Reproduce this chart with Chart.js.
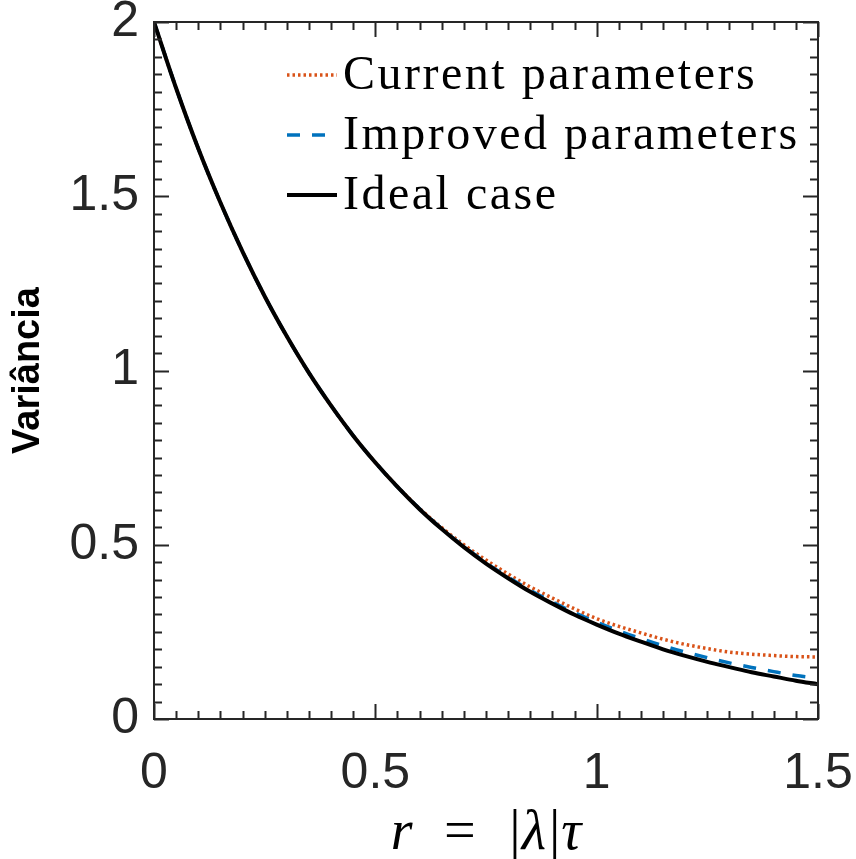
<!DOCTYPE html>
<html>
<head>
<meta charset="utf-8">
<script src="https://cdn.jsdelivr.net/npm/chart.js@4.4.0/dist/chart.umd.min.js"></script>
<style>
  html, body { margin: 0; padding: 0; background: #fff; }
  #wrap { width: 856px; height: 859px; }
</style>
</head>
<body>
<div id="wrap"><canvas id="chart" width="856" height="859"></canvas></div>
<script>
// r = |lambda| tau
const rValues = [0, 0.05, 0.1, 0.15, 0.2, 0.25, 0.3, 0.35, 0.4, 0.45, 0.5, 0.55, 0.6, 0.65, 0.7, 0.75,
                 0.8, 0.85, 0.9, 0.95, 1.0, 1.05, 1.1, 1.15, 1.2, 1.25, 1.3, 1.35, 1.4, 1.45, 1.5];

// Variância
const currentParams = [2.000, 1.810, 1.637, 1.482, 1.341, 1.213, 1.098, 0.993, 0.899, 0.813, 0.736, 0.667, 0.604, 0.549, 0.500, 0.456,
                       0.416, 0.379, 0.347, 0.316, 0.288, 0.266, 0.247, 0.229, 0.214, 0.202, 0.192, 0.186, 0.182, 0.179, 0.178];
const improvedParams = [2.000, 1.810, 1.637, 1.482, 1.341, 1.213, 1.098, 0.993, 0.899, 0.813, 0.736, 0.666, 0.603, 0.546, 0.495, 0.448,
                        0.407, 0.369, 0.336, 0.305, 0.278, 0.253, 0.231, 0.210, 0.192, 0.176, 0.161, 0.148, 0.136, 0.125, 0.117];
const idealCase = [2.000, 1.810, 1.637, 1.482, 1.341, 1.213, 1.098, 0.993, 0.899, 0.813, 0.736, 0.666, 0.602, 0.545, 0.493, 0.446,
                   0.404, 0.365, 0.331, 0.299, 0.271, 0.245, 0.222, 0.200, 0.181, 0.164, 0.149, 0.134, 0.122, 0.110, 0.100];

const seriesNames = ['Current parameters', 'Improved parameters', 'Ideal case'];
const xTicks = [0, 0.5, 1, 1.5];
const yTicks = [0, 0.5, 1, 1.5, 2];
const minorStep = 0.05;

const toPoints = arr => rValues.map((r, i) => ({ x: r, y: arr[i] }));

// inward ticks + box, like the matlab axes
const boxTicks = {
  id: 'boxTicks',
  afterDatasetsDraw(chart) {
    const { ctx, chartArea: a, scales: { x, y } } = chart;
    ctx.save();
    ctx.strokeStyle = '#262626';
    ctx.lineWidth = 2;
    ctx.beginPath();
    const nx = Math.round((x.max - x.min) / minorStep);
    for (let i = 0; i <= nx; i++) {
      const v = x.min + i * minorStep;
      const px = Math.round(x.getPixelForValue(v)) + 0.5;
      const len = xTicks.some(t => Math.abs(t - v) < 1e-6) ? 15 : 8;
      ctx.moveTo(px, a.bottom); ctx.lineTo(px, a.bottom - len);
      ctx.moveTo(px, a.top); ctx.lineTo(px, a.top + len);
    }
    const ny = Math.round((y.max - y.min) / minorStep);
    for (let i = 0; i <= ny; i++) {
      const v = y.min + i * minorStep;
      const py = Math.round(y.getPixelForValue(v)) + 0.5;
      const len = yTicks.some(t => Math.abs(t - v) < 1e-6) ? 15 : 8;
      ctx.moveTo(a.left, py); ctx.lineTo(a.left + len, py);
      ctx.moveTo(a.right, py); ctx.lineTo(a.right - len, py);
    }
    ctx.stroke();
    ctx.strokeRect(a.left, a.top, a.width, a.height);
    ctx.restore();
  }
};

// legend inside the axes, top right, no box
const insideLegend = {
  id: 'insideLegend',
  afterDraw(chart) {
    const { ctx, chartArea: a } = chart;
    const x0 = a.left + 133, x1 = a.left + 183, tx = a.left + 189;
    ctx.save();
    ctx.font = '48px "Liberation Serif", "Times New Roman", serif';
    ctx.letterSpacing = '2.5px';
    ctx.textBaseline = 'alphabetic';
    chart.data.datasets.forEach((ds, i) => {
      const ly = a.top + 53 + i * 60;
      ctx.strokeStyle = ds.borderColor;
      ctx.lineWidth = ds.borderWidth;
      ctx.setLineDash(ds.borderDash || []);
      ctx.beginPath();
      ctx.moveTo(x0, ly);
      ctx.lineTo(x1, ly);
      ctx.stroke();
      ctx.setLineDash([]);
      ctx.fillStyle = '#000';
      ctx.fillText(ds.label, tx, ly + 14);
    });
    ctx.restore();
  }
};

const tickFont = { family: '"Liberation Sans", Arial, Helvetica, sans-serif', size: 50 };

const ctx = document.getElementById('chart').getContext('2d');
new Chart(ctx, {
  type: 'line',
  data: {
    datasets: [
      {
        label: seriesNames[0],
        data: toPoints(currentParams),
        borderColor: '#D95319',
        borderWidth: 3.5,
        borderDash: [2.5, 3],
        order: 3
      },
      {
        label: seriesNames[1],
        data: toPoints(improvedParams),
        borderColor: '#0072BD',
        borderWidth: 3.5,
        borderDash: [13, 12],
        order: 2
      },
      {
        label: seriesNames[2],
        data: toPoints(idealCase),
        borderColor: '#000000',
        borderWidth: 4,
        order: 1
      }
    ]
  },
  options: {
    responsive: false,
    animation: false,
    devicePixelRatio: 1,
    layout: { padding: { top: 22, right: 38, left: 0, bottom: 0 } },
    elements: {
      point: { radius: 0 },
      line: { cubicInterpolationMode: 'monotone', fill: false }
    },
    plugins: {
      legend: { display: false },
      tooltip: { enabled: false }
    },
    scales: {
      x: {
        type: 'linear',
        min: 0,
        max: 1.5,
        afterBuildTicks: s => { s.ticks = xTicks.map(v => ({ value: v })); },
        afterFit: s => { s.height = 140; s.paddingLeft = 0; s.paddingRight = 0; },
        grid: { display: false, drawTicks: false },
        border: { display: false },
        ticks: {
          padding: 25,
          maxRotation: 0,
          color: '#262626',
          font: { ...tickFont, lineHeight: 1.2 },
          callback: v => String(v)
        },
        title: {
          display: true,
          text: 'r\u2002=\u2002|λ|τ',
          color: '#000',
          padding: 0,
          font: { family: '"Liberation Serif", "Times New Roman", serif', size: 56, style: 'italic', lineHeight: 0.9 }
        }
      },
      y: {
        min: 0,
        max: 2,
        afterBuildTicks: s => { s.ticks = yTicks.map(v => ({ value: v })); },
        afterFit: s => { s.width = 154; s.paddingTop = 0; s.paddingBottom = 0; },
        grid: { display: false, drawTicks: false },
        border: { display: false },
        ticks: {
          padding: 15,
          color: '#262626',
          font: { ...tickFont, lineHeight: 0.8 },
          callback: v => String(v)
        },
        title: {
          display: true,
          text: 'Variância',
          color: '#000',
          padding: { top: 6, bottom: 0 },
          font: { family: '"Liberation Sans", Arial, Helvetica, sans-serif', size: 38, weight: 'bold', lineHeight: 1.2 }
        }
      }
    }
  },
  plugins: [boxTicks, insideLegend]
});
</script>
</body>
</html>
